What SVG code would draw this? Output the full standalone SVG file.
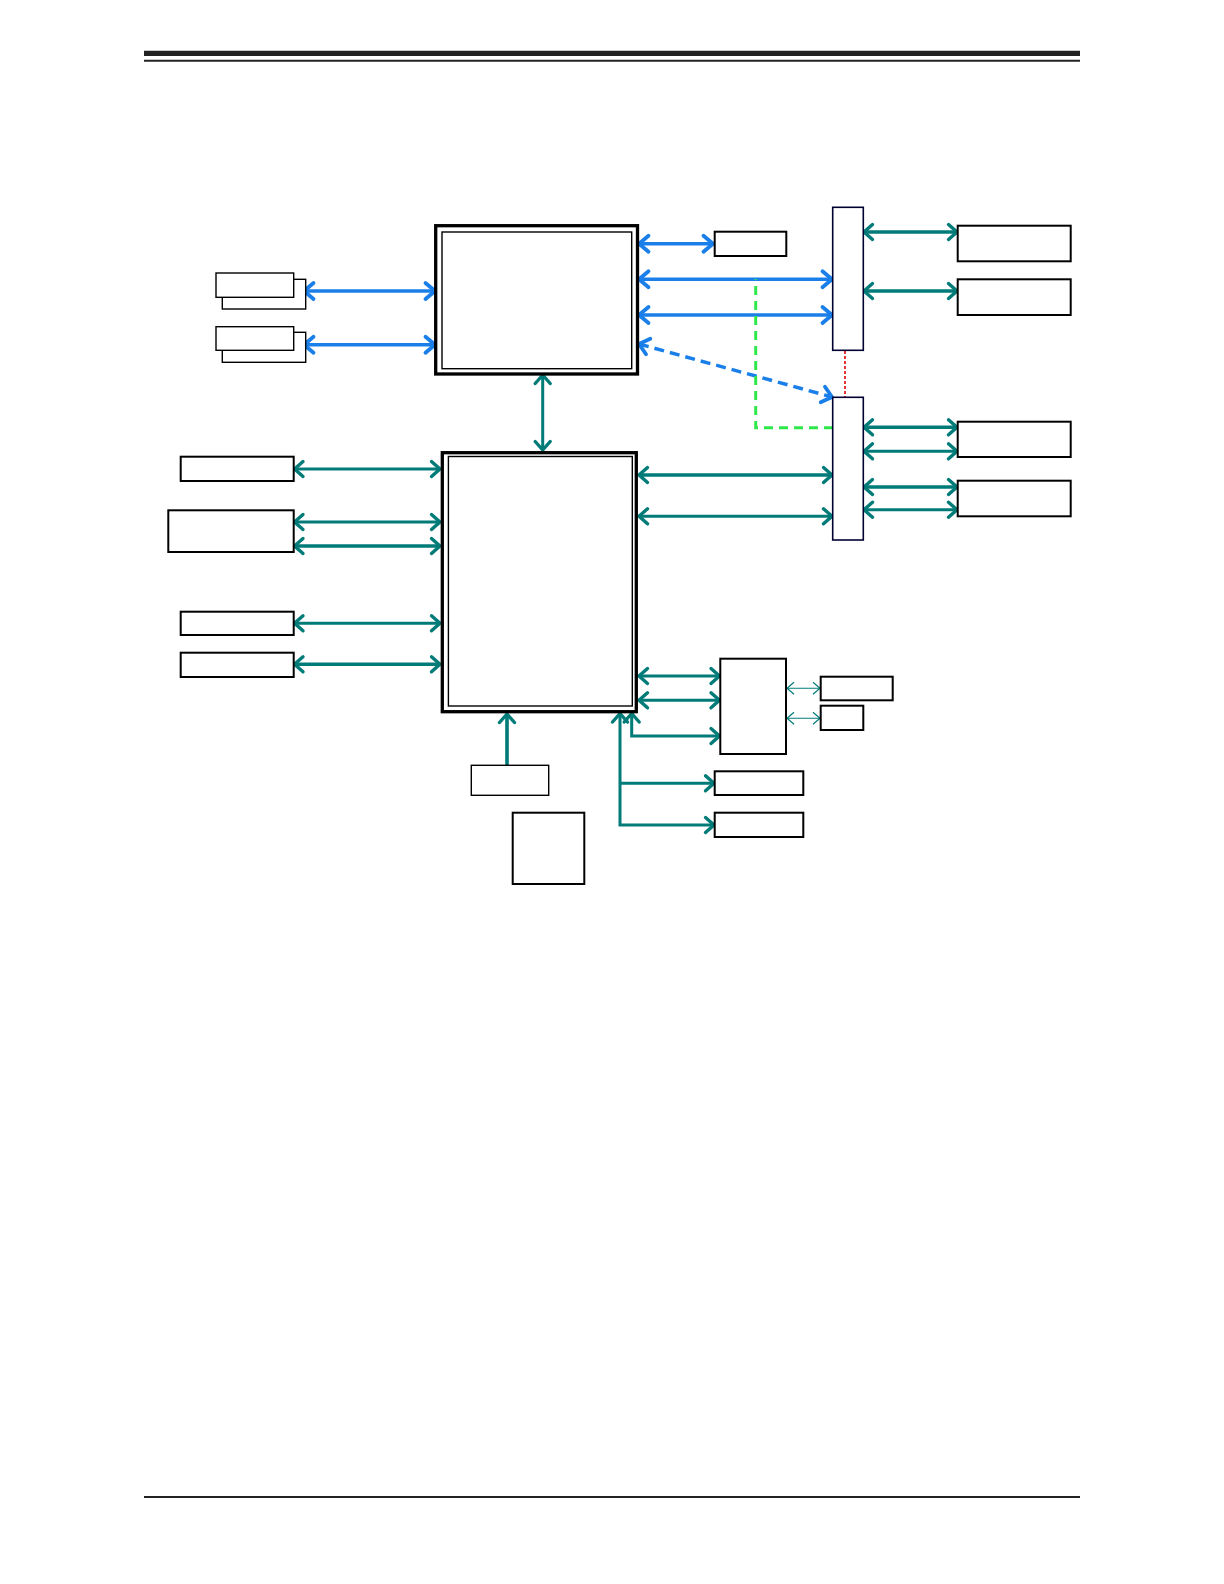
<svg xmlns="http://www.w3.org/2000/svg" width="1224" height="1584" viewBox="0 0 1224 1584">
<style>
.box{fill:#fff;stroke:#000;stroke-width:2}
.thin{fill:#fff;stroke:#000;stroke-width:1.4}
.sw{fill:#fff;stroke:#000033;stroke-width:1.6}
.blue{fill:none;stroke:#1a7fe8;stroke-width:3.5;marker-start:url(#ab);marker-end:url(#ab)}
.teal{fill:none;stroke:#007b78;stroke-width:3;marker-start:url(#at);marker-end:url(#at)}
.tealk{fill:none;stroke:#007b78;stroke-width:3.6;marker-start:url(#at);marker-end:url(#at)}
.tthin{fill:none;stroke:#007b78;stroke-width:1.1;marker-start:url(#at1);marker-end:url(#at1)}
.rule{stroke:#222;fill:none}
</style>
<defs>
<marker id="ab" markerUnits="userSpaceOnUse" markerWidth="20" markerHeight="20" refX="11" refY="8" orient="auto-start-reverse" overflow="visible">
<path d="M1.5,0 L11,8 L1.5,16" fill="none" stroke="#1a7fe8" stroke-width="3.8" stroke-linecap="round" stroke-linejoin="round"/>
</marker>
<marker id="at" markerUnits="userSpaceOnUse" markerWidth="20" markerHeight="20" refX="11" refY="8" orient="auto-start-reverse" overflow="visible">
<path d="M2.5,0.5 L11,8 L2.5,15.5" fill="none" stroke="#007b78" stroke-width="3.4" stroke-linecap="round" stroke-linejoin="round"/>
</marker>
<marker id="at1" markerUnits="userSpaceOnUse" markerWidth="20" markerHeight="20" refX="10" refY="8" orient="auto-start-reverse" overflow="visible">
<path d="M3,2 L10,8 L3,14" fill="none" stroke="#007b78" stroke-width="1.2"/>
</marker>
</defs>

<g id="header">
<line class="rule" x1="144" y1="53.3" x2="1080" y2="53.3" stroke-width="5.3"/>
<line class="rule" x1="144" y1="60.7" x2="1080" y2="60.7" stroke-width="2"/>
</g>
<g id="footer">
<line class="rule" x1="144" y1="1497" x2="1080" y2="1497" stroke-width="2"/>
</g>

<g id="connectors">
<line class="blue" x1="304" y1="291" x2="435" y2="291"/>
<line class="blue" x1="304" y1="344.7" x2="435" y2="344.7"/>
<line class="blue" x1="639" y1="243.7" x2="713" y2="243.7"/>
<line class="blue" x1="639" y1="279.3" x2="832" y2="279.3"/>
<line class="blue" x1="639" y1="315" x2="832" y2="315"/>
<line class="blue" x1="639" y1="344" x2="832" y2="397" stroke-dasharray="10,6"/>
<path d="M833,427.7 H755.7 V279.3" fill="none" stroke="#2ee84a" stroke-width="3" stroke-dasharray="9,6"/>
<line x1="845" y1="351" x2="845" y2="397" stroke="#e00000" stroke-width="1.6" stroke-dasharray="3,2"/>
<line class="tealk" x1="864" y1="232" x2="957" y2="232"/>
<line class="tealk" x1="864" y1="291" x2="957" y2="291"/>
<line class="tealk" x1="864" y1="427.3" x2="957" y2="427.3"/>
<line class="teal" x1="864" y1="451.3" x2="957" y2="451.3"/>
<line class="tealk" x1="864" y1="487" x2="957" y2="487"/>
<line class="teal" x1="864" y1="509.7" x2="957" y2="509.7"/>
<line class="teal" x1="542.7" y1="375" x2="542.7" y2="450"/>
<line class="teal" x1="294.5" y1="469" x2="440" y2="469"/>
<line class="teal" x1="294.5" y1="522" x2="440" y2="522"/>
<line class="tealk" x1="294.5" y1="546" x2="440" y2="546"/>
<line class="teal" x1="294.5" y1="623.3" x2="440" y2="623.3"/>
<line class="tealk" x1="294.5" y1="664.3" x2="440" y2="664.3"/>
<line class="tealk" x1="639" y1="475" x2="832" y2="475"/>
<line class="teal" x1="639" y1="516.3" x2="832" y2="516.3"/>
<line class="teal" x1="639" y1="676" x2="719.5" y2="676"/>
<line class="teal" x1="639" y1="700.3" x2="719.5" y2="700.3"/>
<path class="teal" d="M631.7,713.5 V736 H719.5"/>
<line class="tthin" x1="787" y1="688.3" x2="820" y2="688.3"/>
<line class="tthin" x1="787" y1="718.3" x2="820" y2="718.3"/>
<path class="teal" d="M620,713.5 V825 H714" style="marker-end:url(#at)"/>
<path d="M620,783.3 H714" fill="none" stroke="#007b78" stroke-width="3" marker-end="url(#at)"/>
<path d="M507,765 V714" fill="none" stroke="#007b78" stroke-width="3.6" marker-end="url(#at)"/>
</g>

<g id="cpu">
<rect x="435.7" y="225.7" width="201.8" height="148.3" fill="#fff" stroke="#000" stroke-width="3.3"/>
<rect x="442" y="232" width="189.7" height="136.7" class="thin"/>
</g>
<g id="dimm1">
<rect x="222.3" y="279.3" width="83.4" height="29.7" class="thin"/>
<rect x="216" y="273" width="77.7" height="24.3" class="thin"/>
</g>
<g id="dimm2">
<rect x="222.3" y="332.3" width="83.4" height="30" class="thin"/>
<rect x="216" y="326.7" width="77.7" height="23.6" class="thin"/>
</g>
<g id="cpu-side-box">
<rect x="714.7" y="231.7" width="71.6" height="24.3" class="box"/>
</g>
<g id="switch1">
<rect x="832.7" y="207.3" width="30.6" height="143" class="sw"/>
</g>
<g id="switch2">
<rect x="832.7" y="397.3" width="30.6" height="142.7" class="sw"/>
</g>
<g id="right1"><rect x="957.7" y="225.7" width="113" height="35.6" class="box"/></g>
<g id="right2"><rect x="957.7" y="279.3" width="113" height="35.7" class="box"/></g>
<g id="right3"><rect x="957.7" y="421.7" width="113" height="35.3" class="box"/></g>
<g id="right4"><rect x="957.7" y="480.7" width="113" height="35.6" class="box"/></g>

<g id="pch">
<rect x="442.3" y="452.7" width="194" height="259" fill="#fff" stroke="#000" stroke-width="3.3"/>
<rect x="448.4" y="456.5" width="183.9" height="249.5" class="thin"/>
</g>
<g id="left-a"><rect x="180.7" y="456.7" width="113" height="24.3" class="box"/></g>
<g id="left-b"><rect x="168.3" y="510.3" width="125.4" height="41.7" class="box"/></g>
<g id="left-c"><rect x="180.7" y="611.7" width="113" height="23.3" class="box"/></g>
<g id="left-d"><rect x="180.7" y="652.7" width="113" height="24.3" class="box"/></g>
<g id="ctrl"><rect x="720.3" y="658.7" width="65.7" height="95.3" class="box"/></g>
<g id="ctrl-f"><rect x="820.7" y="676.7" width="72" height="23.6" class="box"/></g>
<g id="ctrl-g"><rect x="820.7" y="705.7" width="42.6" height="24.3" class="box"/></g>
<g id="bot-h"><rect x="714.7" y="771.3" width="88.6" height="23.7" class="box"/></g>
<g id="bot-i"><rect x="714.7" y="812.7" width="88.6" height="24.3" class="box"/></g>
<g id="bot-j"><rect x="471.3" y="765.3" width="77.4" height="30" class="thin"/></g>
<g id="bot-k"><rect x="512.7" y="812.7" width="71.6" height="71.3" class="box"/></g>
</svg>
